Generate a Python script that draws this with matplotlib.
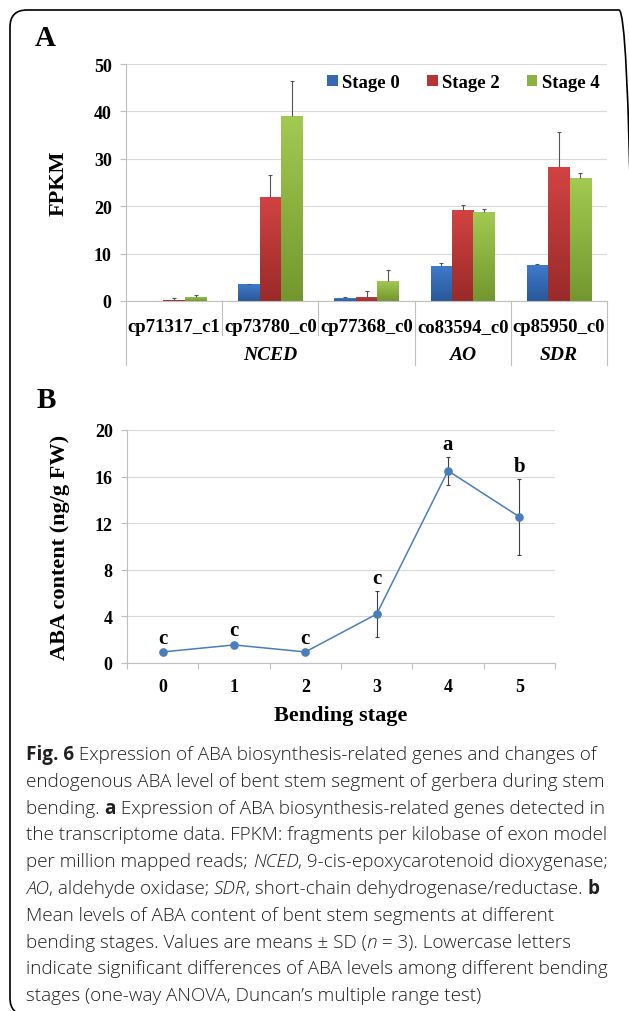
"""Fig. 6 style figure: ABA gene expression (A) and ABA content (B) with caption."""

import matplotlib

matplotlib.use("Agg")
import matplotlib.pyplot as plt
import numpy as np
from matplotlib.colors import LinearSegmentedColormap
from matplotlib.patches import FancyBboxPatch
from matplotlib.transforms import blended_transform_factory

# ---- panel A data ----
genes = ["cp71317_c1", "cp73780_c0", "cp77368_c0", "co83594_c0", "cp85950_c0"]
families = ["NCED", "AO", "SDR"]
family_sizes = [3, 1, 1]
stages = ["Stage 0", "Stage 2", "Stage 4"]
fpkm_stage0 = [0.0, 3.5, 0.6, 7.4, 7.6]
fpkm_stage2 = [0.3, 21.9, 0.85, 19.1, 28.2]
fpkm_stage4 = [0.85, 39.0, 4.15, 18.7, 25.9]
sd_stage0 = [0.0, 0.15, 0.2, 0.6, 0.15]
sd_stage2 = [0.4, 4.6, 1.25, 1.05, 7.4]
sd_stage4 = [0.45, 7.4, 2.3, 0.65, 1.2]

# ---- panel B data ----
bending_stage = [0, 1, 2, 3, 4, 5]
aba_mean = [0.95, 1.55, 0.95, 4.2, 16.5, 12.55]
aba_sd = [0.1, 0.15, 0.1, 2.0, 1.2, 3.25]
sig_letters = ["c", "c", "c", "c", "a", "b"]

# ---- caption (runs of text: r = regular, b = bold, i = italic) ----
caption_lines = [
    [("Fig. 6", "b"), (" Expression of ABA biosynthesis-related genes and changes of", "r")],
    [("endogenous ABA level of bent stem segment of gerbera during stem", "r")],
    [("bending. ", "r"), ("a", "b"), (" Expression of ABA biosynthesis-related genes detected in", "r")],
    [("the transcriptome data. FPKM: fragments per kilobase of exon model", "r")],
    [("per million mapped reads; ", "r"), ("NCED", "i"), (", 9-cis-epoxycarotenoid dioxygenase;", "r")],
    [("AO", "i"), (", aldehyde oxidase; ", "r"), ("SDR", "i"),
     (", short-chain dehydrogenase/reductase. ", "r"), ("b", "b")],
    [("Mean levels of ABA content of bent stem segments at different", "r")],
    [("bending stages. Values are means \u00b1 SD (", "r"), ("n", "i"), (" = 3). Lowercase letters", "r")],
    [("indicate significant differences of ABA levels among different bending", "r")],
    [("stages (one-way ANOVA, Duncan\u2019s multiple range test)", "r")],
]

W, H, DPI = 629, 1012, 100
SERIF = ["Liberation Serif", "DejaVu Serif"]
SANS = ["Open Sans", "DejaVu Sans"]
GRID = "#d9d9d9"
AXIS = "#bfbfbf"
bar_top = ["#3f7bcc", "#d24242", "#a2c951"]
bar_bottom = ["#2a5899", "#9a2a2a", "#73972f"]
bar_mid = ["#3569b3", "#b83535", "#8ab142"]

plt.rcParams["font.family"] = SERIF
plt.rcParams["font.weight"] = "bold"
plt.rcParams["axes.labelweight"] = "bold"


def px_axes(fig, left, top, right, bottom):
    return fig.add_axes([left / W, 1 - bottom / H, (right - left) / W, (bottom - top) / H])


def style_axes(ax):
    for side in ("top", "right"):
        ax.spines[side].set_visible(False)
    for side in ("left", "bottom"):
        ax.spines[side].set_color(AXIS)
        ax.spines[side].set_linewidth(0.8)
    ax.grid(axis="y", color=GRID, linewidth=0.8)
    ax.set_axisbelow(True)
    ax.tick_params(axis="y", length=4.3, width=0.8, color=AXIS, pad=6, labelsize=13)


fig = plt.figure(figsize=(W / DPI, H / DPI), dpi=DPI)

# ---------------- panel A ----------------
ax = px_axes(fig, 126, 65, 607, 302)
style_axes(ax)
x = np.arange(len(genes))
width = 0.223
values = [fpkm_stage0, fpkm_stage2, fpkm_stage4]
errors = [sd_stage0, sd_stage2, sd_stage4]
for k, (vals, errs) in enumerate(zip(values, errors)):
    xs = x + (k - 1) * width
    bars = ax.bar(xs, vals, width, color=bar_mid[k], label=stages[k], zorder=2)
    cmap = LinearSegmentedColormap.from_list(f"g{k}", [bar_bottom[k], bar_top[k]])
    for patch in bars.patches:
        h = patch.get_height()
        if h <= 0:
            continue
        x0 = patch.get_x()
        im = ax.imshow(np.linspace(0, 1, 64).reshape(-1, 1), cmap=cmap, origin="lower",
                       extent=(x0, x0 + patch.get_width(), 0, h), aspect="auto", zorder=2.5)
        im.set_clip_path(patch)
    tops = np.array(vals) + np.array(errs)
    shown = np.array(errs) > 0
    ax.vlines(xs[shown], np.array(vals)[shown], tops[shown], color="#555555", lw=0.8, zorder=3)
    ax.plot(xs[shown], tops[shown], ls="none", marker="_", ms=3.5, mew=0.8, color="#555555", zorder=3)

ax.set_xlim(-0.5, len(genes) - 0.5)
ax.set_ylim(0, 50)
ax.set_yticks(np.arange(0, 51, 10))
ax.set_xticks(x, genes)
ax.tick_params(axis="x", length=0, pad=12, labelsize=13.5)
ax.set_ylabel("FPKM", fontsize=16, va="center")
ax.yaxis.set_label_coords(-0.141, 0.5)

trans = blended_transform_factory(ax.transData, ax.transAxes)
edges = np.arange(len(genes) + 1) - 0.5
family_edges = np.concatenate([[0], np.cumsum(family_sizes)]) - 0.5
for e in edges:
    depth = -0.27 if e in family_edges else -0.145
    ax.plot([e, e], [0, depth], transform=trans, color=AXIS, lw=0.8, clip_on=False)
for name, lo, hi in zip(families, family_edges[:-1], family_edges[1:]):
    ax.text((lo + hi) / 2, -0.224, name, transform=trans, ha="center", va="center",
            fontsize=14, style="italic")

ax.legend(loc="center right", bbox_to_anchor=(0.985, 0.92), ncol=3, frameon=False,
          handlelength=0.55, handleheight=0.55, handletextpad=0.25, columnspacing=1.45,
          borderpad=0, borderaxespad=0, prop={"weight": "bold", "size": 13.5})

fig.text(45.5 / W, 1 - 38 / H, "A", fontsize=21, ha="center", va="center")

# ---------------- panel B ----------------
bx = px_axes(fig, 127, 431, 555, 664)
style_axes(bx)
bx.errorbar(bending_stage, aba_mean, yerr=aba_sd, fmt="none", ecolor="#404040",
            elinewidth=0.8, capsize=1.5, capthick=0.8, zorder=3)
bx.plot(bending_stage, aba_mean, color="#4a7ebb", lw=1.1, marker="o", ms=5.2, zorder=4)
for s, m, sd, letter in zip(bending_stage, aba_mean, aba_sd, sig_letters):
    bx.annotate(letter, (s, m + sd), xytext=(0, 9.5), textcoords="offset points",
                ha="center", va="center", fontsize=15)
bx.set_xlim(-0.5, len(bending_stage) - 0.5)
bx.set_ylim(0, 20)
bx.set_yticks(np.arange(0, 21, 4))
bx.set_xticks(np.arange(len(bending_stage) + 1) - 0.5, [""] * (len(bending_stage) + 1))
bx.set_xticks(bending_stage, [str(s) for s in bending_stage], minor=True)
bx.tick_params(axis="x", which="major", length=4.3, width=0.8, color=AXIS)
bx.tick_params(axis="x", which="minor", length=0, pad=11, labelsize=13)
bx.set_ylabel("ABA content (ng/g FW)", fontsize=16, va="center")
bx.yaxis.set_label_coords(-0.1565, 0.5)
bx.set_xlabel("Bending stage", fontsize=16, va="center")
bx.xaxis.set_label_coords(0.5, -0.222)

fig.text(46 / W, 1 - 401 / H, "B", fontsize=21, ha="center", va="center")

# ---------------- caption ----------------
renderer = fig.canvas.get_renderer()
run_props = {
    "r": {"family": SANS, "weight": 300, "style": "normal"},
    "b": {"family": SANS, "weight": "bold", "style": "normal"},
    "i": {"family": SANS, "weight": 300, "style": "italic"},
}
cap_size = 13.6


def run_width(text, props):
    probe = fig.text(0, 0, text + "|", fontsize=cap_size, **props)
    ref = fig.text(0, 0, "|", fontsize=cap_size, **props)
    w = probe.get_window_extent(renderer).width - ref.get_window_extent(renderer).width
    probe.remove()
    ref.remove()
    return w


for i, runs in enumerate(caption_lines):
    xpos = 26.0
    baseline = 760 + i * 26.8
    for text, kind in runs:
        fig.text(xpos / W, 1 - baseline / H, text, fontsize=cap_size, va="baseline",
                 color="#231f20", **run_props[kind])
        xpos += run_width(text, run_props[kind])

# rounded frame, running off the right and bottom edges
frame = FancyBboxPatch((10 / DPI, -4 / DPI), 626 / DPI, (H - 11 + 4) / DPI,
                       boxstyle="round,pad=0,rounding_size=0.17",
                       transform=fig.dpi_scale_trans, fill=False, ec="black", lw=1.2)
fig.add_artist(frame)

fig.savefig("out.png", dpi=DPI)
